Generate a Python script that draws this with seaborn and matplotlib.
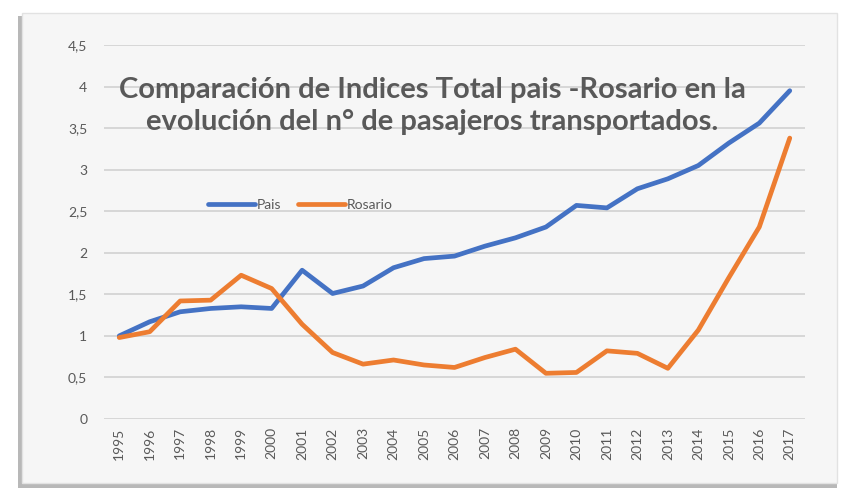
import matplotlib
matplotlib.use("Agg")
import matplotlib.pyplot as plt
import matplotlib.patches as mpatches
import seaborn as sns
import pandas as pd
import numpy as np

years = list(range(1995, 2018))
pais = [1.0, 1.17, 1.29, 1.33, 1.35, 1.33, 1.79, 1.51, 1.60, 1.82, 1.93, 1.96,
        2.08, 2.18, 2.31, 2.57, 2.54, 2.77, 2.89, 3.05, 3.32, 3.56, 3.95]
rosario = [0.98, 1.05, 1.42, 1.43, 1.73, 1.57, 1.14, 0.80, 0.66, 0.71, 0.65, 0.62,
           0.74, 0.84, 0.55, 0.56, 0.82, 0.79, 0.61, 1.07, 1.70, 2.31, 3.38]
series_names = ["Pais", "Rosario"]
yticks = [0, 0.5, 1, 1.5, 2, 2.5, 3, 3.5, 4, 4.5]
title_text = "Comparación de Indices Total pais -Rosario en la\nevolución del n° de pasajeros transportados."

df = pd.DataFrame({
    "year": years * 2,
    "value": pais + rosario,
    "serie": [series_names[0]] * len(years) + [series_names[1]] * len(years),
})

sns.set_style("white")
plt.rcParams["font.family"] = ["Lato", "DejaVu Sans"]

fig = plt.figure(figsize=(8.43, 4.96), dpi=100)
fig.patch.set_facecolor("white")

# frame with shadow
shadow = mpatches.Rectangle((18 / 843, 8 / 496), 819 / 843, 472 / 496, transform=fig.transFigure,
                            facecolor="#b8b8b8", edgecolor="none", zorder=-10)
frame = mpatches.Rectangle((22 / 843, 13 / 496), 815 / 843, 470 / 496, transform=fig.transFigure,
                           facecolor="#f6f6f6", edgecolor="#e2e2e2", linewidth=1, zorder=-9)
fig.patches.extend([shadow, frame])

ax = fig.add_axes([104 / 843, (496 - 419) / 496, (805 - 104) / 843, (419 - 45) / 496])
ax.set_facecolor("none")
ax.set_zorder(5)

palette = {"Pais": "#4472C4", "Rosario": "#ED7D31"}
sns.lineplot(data=df, x="year", y="value", hue="serie", palette=palette, ax=ax,
             linewidth=3.4, legend=False, zorder=3)

ax.set_xlim(1994.5, 2017.5)
ax.set_ylim(0, 4.5)
ax.set_yticks(yticks)
ax.set_yticklabels([("%g" % t).replace(".", ",") for t in yticks])
ax.set_xticks(years)
ax.set_xticklabels([str(y) for y in years], rotation=90)
ax.tick_params(axis="both", colors="#595959", labelsize=10, length=0)
ax.tick_params(axis="y", pad=12)
ax.tick_params(axis="x", pad=6)
ax.grid(axis="y", color="#d4d4d4", linewidth=1.3, zorder=0)
ax.set_axisbelow(True)
for s in ax.spines.values():
    s.set_visible(False)
ax.set_xlabel("")
ax.set_ylabel("")

ax.text(0.468, 0.836, title_text, transform=ax.transAxes, ha="center", va="center",
        fontsize=21, fontweight="bold", color="#595959", linespacing=1.3, zorder=2)

handles = [plt.Line2D([], [], color=palette[n], linewidth=3.4) for n in series_names]
ax.legend(handles, series_names, loc="center", bbox_to_anchor=(0.28, 0.573), ncol=2,
          frameon=False, fontsize=10, labelcolor="#595959", handlelength=3.4,
          handletextpad=0.1, columnspacing=1.2)

fig.savefig("out.png", dpi=100, facecolor="white")
